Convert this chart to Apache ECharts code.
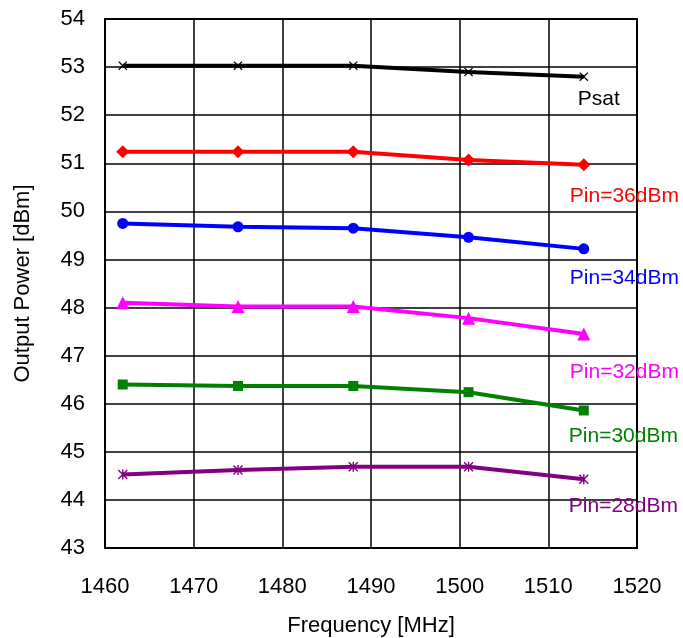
<!DOCTYPE html>
<html>
<head>
<meta charset="utf-8">
<script src="https://cdn.jsdelivr.net/npm/echarts@6/dist/echarts.min.js"></script>
<style>
  html, body { margin: 0; padding: 0; background: #fff; }
  #main { width: 683px; height: 638px; }
</style>
</head>
<body>
<div id="main"></div>
<script>
var myChart = echarts.init(document.getElementById('main'));

var freq = [1462, 1475, 1488, 1501, 1514];
var psat = [53.03, 53.03, 53.03, 52.90, 52.80];
var pin36 = [51.24, 51.24, 51.24, 51.07, 50.97];
var pin34 = [49.75, 49.68, 49.65, 49.46, 49.22];
var pin32 = [48.10, 48.02, 48.02, 47.78, 47.45];
var pin30 = [46.40, 46.37, 46.37, 46.24, 45.86];
var pin28 = [44.53, 44.62, 44.69, 44.69, 44.43];

var names = ['Psat', 'Pin=36dBm', 'Pin=34dBm', 'Pin=32dBm', 'Pin=30dBm', 'Pin=28dBm'];
var colors = ['#000000', '#ff0000', '#0000ff', '#ff00ff', '#008000', '#800080'];

var crossPath = 'path://M0,1L1,0L5,4L9,0L10,1L6,5L10,9L9,10L5,6L1,10L0,9L4,5Z';
var starPath = 'path://M0,1L1,0L5,4L9,0L10,1L6,5L10,9L9,10L5,6L1,10L0,9L4,5ZM4.3,0L5.7,0L5.7,10L4.3,10Z';
var symbols = [crossPath, 'diamond', 'circle', 'triangle', 'rect', starPath];
var symbolSizes = [9, 13, 11, 13, 10, 10];
var labelOffsets = [[-14, 22], [-22, 31], [-22, 29], [-22, 38], [-23, 26], [-23, 27]];
var allValues = [psat, pin36, pin34, pin32, pin30, pin28];

function pairs(vals) {
    return freq.map(function (f, i) { return [f, vals[i]]; });
}

var series = allValues.map(function (vals, k) {
    return {
        name: names[k],
        type: 'line',
        data: pairs(vals),
        symbol: symbols[k],
        symbolSize: symbolSizes[k],
        showAllSymbol: true,
        lineStyle: { color: colors[k], width: 4 },
        itemStyle: { color: colors[k] },
        endLabel: {
            show: true,
            formatter: names[k],
            color: colors[k],
            fontSize: 21,
            fontFamily: 'Liberation Sans',
            align: 'left',
            offset: labelOffsets[k]
        },
        z: 3
    };
});

option = {
    backgroundColor: '#fff',
    animation: false,
    grid: {
        left: 105, right: 46, top: 19, bottom: 90,
        outerBoundsMode: 'none',
        show: true, borderColor: '#000', borderWidth: 2
    },
    xAxis: {
        type: 'value',
        min: 1460, max: 1520, interval: 10,
        name: 'Frequency [MHz]',
        nameLocation: 'middle',
        nameGap: 67,
        nameTextStyle: { fontSize: 22, color: '#000', fontFamily: 'Liberation Sans' },
        axisLine: { lineStyle: { color: '#000', width: 2 } },
        axisTick: { show: false },
        axisLabel: {
            fontSize: 22, color: '#000', margin: 28, fontFamily: 'Liberation Sans',
            formatter: function (v) { return String(v); }
        },
        splitLine: { lineStyle: { color: '#000', width: 1.5 } }
    },
    yAxis: {
        type: 'value',
        min: 43, max: 54, interval: 1,
        name: 'Output Power [dBm]',
        nameLocation: 'middle',
        nameGap: 71,
        nameTextStyle: { fontSize: 22, color: '#000', fontFamily: 'Liberation Sans' },
        axisLine: { lineStyle: { color: '#000', width: 2 } },
        axisTick: { show: false },
        axisLabel: { fontSize: 22, color: '#000', margin: 20, fontFamily: 'Liberation Sans' },
        splitLine: { lineStyle: { color: '#000', width: 1.5 } }
    },
    series: series
};
myChart.setOption(option);
</script>
</body>
</html>
